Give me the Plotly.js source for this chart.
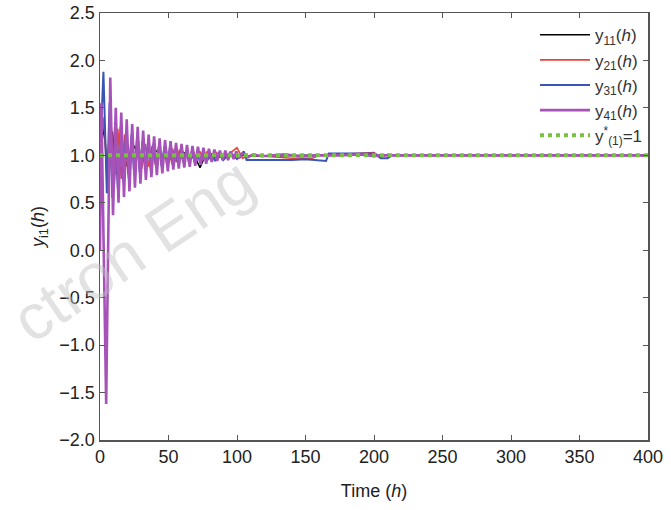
<!DOCTYPE html>
<html>
<head>
<meta charset="utf-8">
<script src="https://cdn.plot.ly/plotly-3.0.1.min.js"></script>
<style>html,body{margin:0;padding:0;background:#fff;}#chart{width:671px;height:510px;}</style>
</head>
<body>
<div id="chart"></div>
<script>
// ---- data ----
const t41 = [0, 1, 4.5, 7.5, 9.5, 11.5, 13.5, 15.5, 17.5, 19.5, 21.5, 23.5, 25.5, 27.5, 29.5, 31.5, 33.5, 35.5, 37.5, 39.5, 41.5, 43.5, 45.5, 47.5, 49.5, 51.5, 53.5, 55.5, 57.5, 59.5, 61.5, 63.5, 65.5, 67.5, 69.5, 71.5, 73.5, 75.5, 77.5, 79.5, 81.5, 83.5, 85.5, 87.5, 89.5, 91.5, 93.5, 95.5, 97.5, 99.5, 101.5, 104, 108, 112, 118, 125, 135, 145, 160, 175, 190, 200, 205, 210, 215, 230, 400];
const y41 = [0.0, 1.55, -1.62, 1.82, 0.37, 1.5, 0.5, 1.45, 0.56, 1.38, 0.62, 1.33, 0.66, 1.3, 0.7, 1.26, 0.74, 1.22, 0.77, 1.2, 0.79, 1.18, 0.81, 1.16, 0.83, 1.15, 0.85, 1.13, 0.86, 1.12, 0.87, 1.11, 0.88, 1.1, 0.89, 1.09, 0.9, 1.08, 0.91, 1.07, 0.93, 1.06, 0.94, 1.05, 0.95, 1.05, 0.95, 1.04, 0.96, 1.04, 0.97, 1.02, 0.98, 1.01, 0.99, 1.0, 1.01, 0.99, 1.0, 1.0, 1.01, 0.99, 1.0, 1.0, 1.0, 1.0, 1.0];

const t31 = [0, 2.5, 5, 7, 9, 11, 13, 15, 17, 19, 21, 23, 25, 27, 29, 31, 33, 35, 37, 39, 41, 43, 45, 47, 49, 51, 53, 55, 57, 59, 61, 63, 65, 67, 69, 71, 73, 75, 78, 81, 84, 87, 90, 95, 100, 105, 107, 120, 140, 150, 165, 167, 180, 200, 205, 210, 213, 220, 400];
const y31 = [1.0, 1.88, 0.6, 1.55, 0.55, 1.35, 0.65, 1.3, 0.72, 1.25, 0.76, 1.22, 0.8, 1.18, 0.82, 1.15, 0.84, 1.13, 0.86, 1.12, 0.87, 1.1, 0.88, 1.09, 0.89, 1.08, 0.9, 1.07, 0.91, 1.06, 0.92, 1.05, 0.92, 1.04, 0.93, 1.03, 0.93, 1.02, 0.94, 1.02, 0.94, 1.02, 0.95, 1.03, 0.96, 1.04, 0.95, 0.95, 0.95, 0.96, 0.94, 1.02, 1.02, 1.02, 0.97, 0.97, 1.0, 1.0, 1.0];

const t21 = [0, 3, 5.5, 8, 10.5, 13, 15.5, 18, 20.5, 23, 25.5, 28, 30.5, 33, 35.5, 38, 40.5, 43, 45.5, 48, 50.5, 53, 55.5, 58, 60.5, 63, 65.5, 68, 70.5, 73, 75.5, 78, 80.5, 85, 90, 95, 100, 104, 110, 140, 155, 160, 200, 205, 210, 215, 400];
const y21 = [1.0, 1.4, 0.6, 1.35, 0.7, 1.28, 0.75, 1.22, 0.8, 1.18, 0.84, 1.15, 0.86, 1.12, 0.88, 1.1, 0.9, 1.09, 0.91, 1.08, 0.92, 1.07, 0.93, 1.06, 0.94, 1.05, 0.94, 1.05, 0.95, 1.04, 0.95, 1.04, 0.96, 1.03, 0.97, 1.03, 1.08, 0.97, 1.0, 0.97, 0.97, 1.0, 1.03, 0.98, 1.01, 1.0, 1.0];

const t11 = [0, 3, 6, 9, 12, 15, 20, 25, 30, 40, 50, 60, 70, 73, 76, 85, 100, 120, 150, 200, 400];
const y11 = [1.0, 1.3, 0.7, 1.25, 0.8, 1.15, 0.88, 1.1, 0.92, 1.06, 0.95, 1.04, 0.96, 0.87, 0.97, 0.98, 1.0, 0.99, 1.0, 1.0, 1.0];

const tRef = [0, 400];
const yRef = [1, 1];

const names = ['y<sub>11</sub>(<i>h</i>)', 'y<sub>21</sub>(<i>h</i>)', 'y<sub>31</sub>(<i>h</i>)', 'y<sub>41</sub>(<i>h</i>)', 'y<sup>*</sup><sub>(1)</sub>=1'];
const colors = ['#000000', '#e8443a', '#3a55b4', '#a652b8', '#78c044'];

const xTicks = [0, 50, 100, 150, 200, 250, 300, 350, 400];
const yTicks = [-2.0, -1.5, -1.0, -0.5, 0.0, 0.5, 1.0, 1.5, 2.0, 2.5];

const traces = [
  {x: t11, y: y11, name: names[0], mode: 'lines', line: {color: colors[0], width: 1.5}},
  {x: t21, y: y21, name: names[1], mode: 'lines', line: {color: colors[1], width: 1.6}},
  {x: t31, y: y31, name: names[2], mode: 'lines', line: {color: colors[2], width: 2}},
  {x: t41, y: y41, name: names[3], mode: 'lines', line: {color: colors[3], width: 2.6}},
  {x: tRef, y: yRef, name: names[4], mode: 'lines', line: {color: colors[4], width: 4, dash: 'dot'}}
];

const axisFont = {family: 'Liberation Sans, Arial, sans-serif', size: 18, color: '#222'};

const layout = {
  width: 671, height: 510,
  margin: {l: 100, r: 23, t: 13, b: 70},
  paper_bgcolor: '#fff', plot_bgcolor: '#fff',
  showlegend: true,
  legend: {x: 1, xanchor: 'right', y: 0.99, yanchor: 'top', bgcolor: 'rgba(0,0,0,0)',
           itemwidth: 50,
           font: {family: 'Liberation Sans, Arial, sans-serif', size: 17, color: '#333'},
           tracegroupgap: 0},
  xaxis: {range: [0, 400], tickvals: xTicks, ticks: 'inside', ticklen: 5, tickcolor: '#555',
          showline: true, mirror: 'ticks', linecolor: '#555', linewidth: 1.5,
          showgrid: false, zeroline: false, tickfont: axisFont,
          title: {text: 'Time (<i>h</i>)', font: axisFont, standoff: 18}},
  yaxis: {range: [-2, 2.5], tickvals: yTicks, tickformat: '.1f', ticks: 'inside', ticklen: 5, tickcolor: '#555',
          showline: true, mirror: 'ticks', linecolor: '#555', linewidth: 1.5,
          showgrid: false, zeroline: false, tickfont: axisFont,
          title: {text: '<i>y</i><sub>i1</sub>(<i>h</i>)', font: axisFont, standoff: 10}},
  annotations: [{
    text: 'ctron Eng', xref: 'paper', yref: 'paper', x: 0.06, y: 0.445,
    xanchor: 'center', yanchor: 'middle', showarrow: false,
    textangle: -34, font: {family: 'Liberation Sans, Arial, sans-serif', size: 64, color: 'rgba(190,190,190,0.45)'}
  }]
};

Plotly.newPlot('chart', traces, layout, {displayModeBar: false, staticPlot: true});
</script>
</body>
</html>
